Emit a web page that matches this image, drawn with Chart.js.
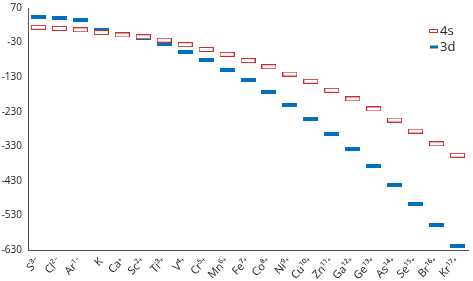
<!DOCTYPE html>
<html>
<head>
<meta charset="utf-8">
<script src="https://cdn.jsdelivr.net/npm/chart.js@4/dist/chart.umd.min.js"></script>
<style>
  html, body { margin: 0; padding: 0; background: #fff; }
  #wrap { width: 473px; height: 281px; }
</style>
</head>
<body>
<div id="wrap"><canvas id="chart"></canvas></div>
<script>
// Orbital energies across the isoelectronic series
const ions = ['S³⁻', 'Cl²⁻', 'Ar¹⁻', 'K', 'Ca⁺', 'Sc²⁺', 'Ti³⁺', 'V⁴⁺', 'Cr⁵⁺', 'Mn⁶⁺', 'Fe⁷⁺',
    'Co⁸⁺', 'Ni⁹⁺', 'Cu¹⁰⁺', 'Zn¹¹⁺', 'Ga¹²⁺', 'Ge¹³⁺', 'As¹⁴⁺', 'Se¹⁵⁺', 'Br¹⁶⁺', 'Kr¹⁷⁺'];
const s4 = [14, 11, 7, -1, -8, -13, -23, -36, -50, -64, -82, -100, -121, -142, -168, -193, -222, -254, -286, -323, -356];
const d3 = [44, 40, 35, 6, -5, -17, -35, -56, -80, -109, -139, -173, -210, -251, -295, -338, -388, -441, -498, -558, -619];
const yTicks = [70, -30, -130, -230, -330, -430, -530, -630];

const RED = '#D22B2B';
const BLUE = '#0070C0';

// marker shapes: outlined red bar and solid blue bar
function makeMarker(w, h, fill, stroke) {
    const c = document.createElement('canvas');
    c.width = w;
    c.height = h;
    const g = c.getContext('2d');
    g.fillStyle = fill;
    g.fillRect(0, 0, w, h);
    if (stroke) {
        g.strokeStyle = stroke;
        g.lineWidth = 1;
        g.strokeRect(0.5, 0.5, w - 1, h - 1);
    }
    return c;
}
const redMark = makeMarker(15, 5, '#fff', RED);
const blueMark = makeMarker(15, 4, BLUE, null);

// legend drawn inside the plot, top right
const insideLegend = {
    id: 'insideLegend',
    afterDraw(chart) {
        const ctx = chart.ctx;
        ctx.save();
        ctx.font = '13px "Open Sans", sans-serif';
        ctx.fillStyle = '#222';
        ctx.textBaseline = 'middle';
        const rowsY = [31, 47];
        chart.data.datasets.forEach((ds, i) => {
            const y = rowsY[i];
            if (i === 0) {
                ctx.fillStyle = RED;
                ctx.fillRect(429, y - 2, 9, 4);
                ctx.fillStyle = '#fff';
                ctx.fillRect(430, y - 1, 7, 2);
            } else {
                ctx.fillStyle = BLUE;
                ctx.fillRect(430, y - 1.5, 8, 3);
            }
            ctx.fillStyle = '#222';
            ctx.fillText(ds.label, 440, y);
        });
        ctx.restore();
    }
};

new Chart(document.getElementById('chart'), {
    type: 'line',
    data: {
        labels: ions,
        datasets: [{
            label: '4s',
            data: s4,
            showLine: false,
            pointStyle: redMark,
            borderColor: RED,
            backgroundColor: '#fff'
        }, {
            label: '3d',
            data: d3,
            showLine: false,
            pointStyle: blueMark,
            borderColor: BLUE,
            backgroundColor: BLUE
        }]
    },
    options: {
        responsive: true,
        maintainAspectRatio: false,
        animation: false,
        events: [],
        layout: { padding: { top: 7, right: 1, left: 0, bottom: 0 } },
        plugins: {
            legend: { display: false },
            tooltip: { enabled: false }
        },
        scales: {
            x: {
                offset: true,
                grid: { display: false, drawTicks: true, offset: false, tickLength: 4, color: '#555' },
                border: { color: '#555', width: 1 },
                ticks: {
                    autoSkip: false,
                    maxRotation: 45,
                    minRotation: 45,
                    padding: 1,
                    color: '#222',
                    font: { family: '"Open Sans", sans-serif', size: 11 }
                },
                afterFit(scale) { scale.height = 31; }
            },
            y: {
                min: -630,
                max: 70,
                afterBuildTicks(scale) { scale.ticks = yTicks.map(v => ({ value: v })); },
                grid: { display: false, drawTicks: true, tickLength: 4, color: '#555' },
                border: { color: '#555', width: 1 },
                ticks: {
                    padding: 2,
                    color: '#222',
                    font: { family: '"Open Sans", sans-serif', size: 10 }
                },
                afterFit(scale) { scale.width = 28; }
            }
        }
    },
    plugins: [insideLegend]
});
</script>
</body>
</html>
